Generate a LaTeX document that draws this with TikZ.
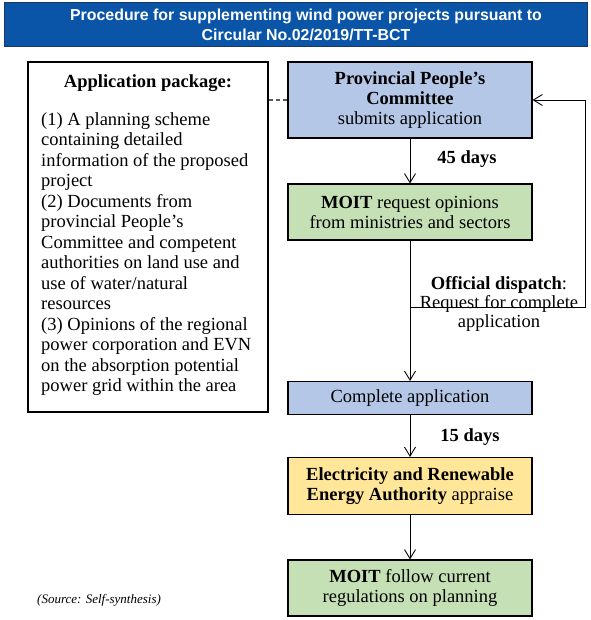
\documentclass[tikz,border=0pt]{standalone}
\usepackage{fontspec}
\setmainfont{Liberation Serif}
\newfontfamily\headfont{Liberation Sans}
\usetikzlibrary{arrows,arrows.meta}

\definecolor{barblue}{HTML}{0A55A8}
\definecolor{barnavy}{HTML}{1B3766}
\definecolor{stepblue}{HTML}{B4C7E7}
\definecolor{stepgreen}{HTML}{C5E0B4}
\definecolor{stepyellow}{HTML}{FFE699}

\begin{document}
\begin{tikzpicture}[x=1pt,y=-1pt,
	box/.style={draw,line width=1.1pt,minimum width=244pt,inner sep=0pt,align=center,font=\fontsize{18.5}{20}\selectfont},
	lbl/.style={font=\fontsize{18.5}{20}\selectfont\bfseries},
	>={Straight Barb[length=9pt,width=11pt]}]
	\useasboundingbox (0,0) rectangle (590,620);
	% title bar
	\node[fill=barblue,draw=barnavy,line width=1pt,minimum width=583pt,minimum height=44pt] (title) at (295.5,25) {};
	\node[text=white,align=center,font=\headfont\bfseries\fontsize{15.9}{20}\selectfont] (titletext) at (306,25) {Procedure for supplementing wind power projects pursuant to\\Circular No.02/2019/TT-BCT};
	% application package
	\node[draw,line width=1.8pt,minimum width=240pt,minimum height=350pt] (pkg) at (148,237) {};
	\node[lbl] (pkghead) at (148,83) {Application package:};
	\node[anchor=north west,inner sep=0pt,align=left,font=\fontsize{18.5}{20.5}\selectfont] (pkglist) at (41,112) {(1) A planning scheme\\containing detailed\\information of the proposed\\project\\(2) Documents from\\provincial People’s\\Committee and competent\\authorities on land use and\\use of water/natural\\resources\\(3) Opinions of the regional\\power corporation and EVN\\on the absorption potential\\power grid within the area};
	% steps
	\node[box,fill=stepblue,minimum height=76pt] (ppc) at (410,100) {\textbf{Provincial People’s}\\\textbf{Committee}\\submits application};
	\node[box,fill=stepgreen,minimum height=56pt] (moit) at (410,212) {\textbf{MOIT} request opinions\\from ministries and sectors};
	\node[box,fill=stepblue,minimum height=33pt] (comp) at (410,398) {Complete application};
	\node[box,fill=stepyellow,minimum height=57pt] (era) at (410,486) {\textbf{Electricity and Renewable}\\\textbf{Energy Authority} appraise};
	\node[box,fill=stepgreen,minimum height=56pt] (final) at (410,588) {\textbf{MOIT} follow current\\regulations on planning};
	% labels
	\node[lbl] (d45) at (467,159) {45 days};
	\node[lbl] (d15) at (470,437) {15 days};
	\node[align=center,font=\fontsize{18.5}{19}\selectfont] (dispatch) at (499,304) {\textbf{Official dispatch}:\\Request for complete\\application};
	\coordinate (split) at (410,307);
	\coordinate (turn) at (585,307);
	% connectors
	\draw[gray!70!black,line width=1.2pt,dash pattern=on 4pt off 3pt] (pkg.east |- ppc) -- (ppc.west);
	\draw[->,line width=0.9pt] (ppc) -- (moit);
	\draw[->,line width=0.9pt] (moit) -- (comp);
	\draw[->,line width=0.9pt] (comp) -- (era);
	\draw[->,line width=0.9pt] (era) -- (final);
	\draw[->,line width=0.9pt] (split) -- (turn) |- (ppc.east);
	% source
	\node[anchor=west,inner sep=0pt,font=\fontsize{13}{15}\selectfont\itshape] (source) at (37,600) {(Source: Self-synthesis)};
\end{tikzpicture}
\end{document}
